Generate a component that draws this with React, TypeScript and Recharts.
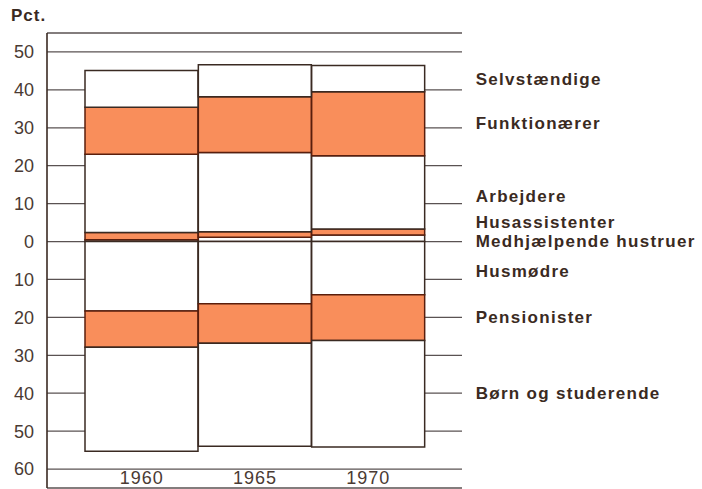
import React from 'react';
import { BarChart, Bar, XAxis, YAxis, CartesianGrid, LabelList } from 'recharts';

const years = ['1960', '1965', '1970'];
// above zero (bottom to top)
const medhjaelpende = [0.5, 1.1, 1.7];
const husassistenter = [1.9, 1.5, 1.6];
const arbejdere = [20.6, 20.9, 19.3];
const funktionaerer = [12.4, 14.7, 16.9];
const selvstaendige = [9.7, 8.4, 6.9];
// below zero (top to bottom)
const husmoedre = [-18.3, -16.4, -14.0];
const pensionister = [-9.6, -10.4, -12.1];
const boern = [-27.4, -27.2, -28.1];

const yTicks = [-60, -50, -40, -30, -20, -10, 0, 10, 20, 30, 40, 50];

const ORANGE = '#F98E5B';
const WHITE = '#FFFFFF';
const INK = '#3a2a22';
const TEXT = '#4a3a33';
const GRID = '#5a5252';
const FONT = 'Liberation Sans, Arial, sans-serif';

const series = [
  { key: 'medh', name: 'Medhjælpende hustruer', values: medhjaelpende, fill: WHITE, dy: 3 },
  { key: 'husa', name: 'Husassistenter', values: husassistenter, fill: ORANGE, dy: -10 },
  { key: 'arb', name: 'Arbejdere', values: arbejdere, fill: WHITE, dy: 4 },
  { key: 'funk', name: 'Funktionærer', values: funktionaerer, fill: ORANGE, dy: 0 },
  { key: 'selv', name: 'Selvstændige', values: selvstaendige, fill: WHITE, dy: 1 },
  { key: 'husm', name: 'Husmødre', values: husmoedre, fill: WHITE, dy: 3 },
  { key: 'pens', name: 'Pensionister', values: pensionister, fill: ORANGE, dy: 0 },
  { key: 'born', name: 'Børn og studerende', values: boern, fill: WHITE, dy: 0 },
];

const data = years.map((year, i) => {
  const row: Record<string, string | number> = { year };
  series.forEach((s) => {
    row[s.key] = s.values[i];
  });
  return row;
});

function sideLabel(name: string, dy: number) {
  return (props: any) => {
    if (props.index !== years.length - 1) return null;
    const x = Number(props.x) + Number(props.width) + 51;
    const y = Number(props.y) + Number(props.height) / 2 + dy;
    return (
      <text
        x={x}
        y={y}
        dominantBaseline="central"
        fill={INK}
        fontSize={17}
        letterSpacing={1.3}
        fontWeight="bold"
        fontFamily={FONT}
      >
        {name}
      </text>
    );
  };
}

function YearTick({ x, y, payload }: any) {
  return (
    <text x={x} y={y - 4} textAnchor="middle" fill={TEXT} fontSize={18} letterSpacing={1} fontFamily={FONT}>
      {payload.value}
    </text>
  );
}

export default function App() {
  return (
    <div style={{ position: 'absolute', left: 0, top: 0, width: 702, height: 489, background: '#fff' }}>
      <div
        style={{
          position: 'absolute',
          left: 11,
          top: 6,
          fontFamily: FONT,
          fontWeight: 'bold',
          fontSize: 17,
          letterSpacing: 1,
          color: INK,
        }}
      >
        Pct.
      </div>
      <BarChart
        width={702}
        height={489}
        data={data}
        stackOffset="sign"
        barCategoryGap={0}
        barGap={0}
        margin={{ top: 33, right: 240, bottom: 0, left: 0 }}
      >
        <CartesianGrid horizontal vertical={false} stroke={GRID} strokeWidth={1.3} />
        <XAxis
          dataKey="year"
          axisLine={false}
          tickLine={false}
          tickSize={0}
          tickMargin={0}
          height={1}
          padding={{ left: 38, right: 37 }}
          tick={<YearTick />}
        />
        <YAxis
          type="number"
          domain={[-65, 55]}
          ticks={yTicks}
          interval={0}
          width={47}
          axisLine={{ stroke: INK, strokeWidth: 1.6 }}
          tickLine={false}
          tickSize={0}
          tickMargin={13}
          tickFormatter={(v: number) => String(Math.abs(v))}
          tick={{ fill: TEXT, fontSize: 18, fontFamily: FONT }}
        />
        {series.map((s) => (
          <Bar
            key={s.key}
            dataKey={s.key}
            stackId="a"
            fill={s.fill}
            stroke={s.fill === ORANGE ? '#5a1e0c' : INK}
            strokeWidth={1.5}
            isAnimationActive={false}
          >
            <LabelList dataKey={s.key} content={sideLabel(s.name, s.dy)} />
          </Bar>
        ))}
      </BarChart>
    </div>
  );
}
